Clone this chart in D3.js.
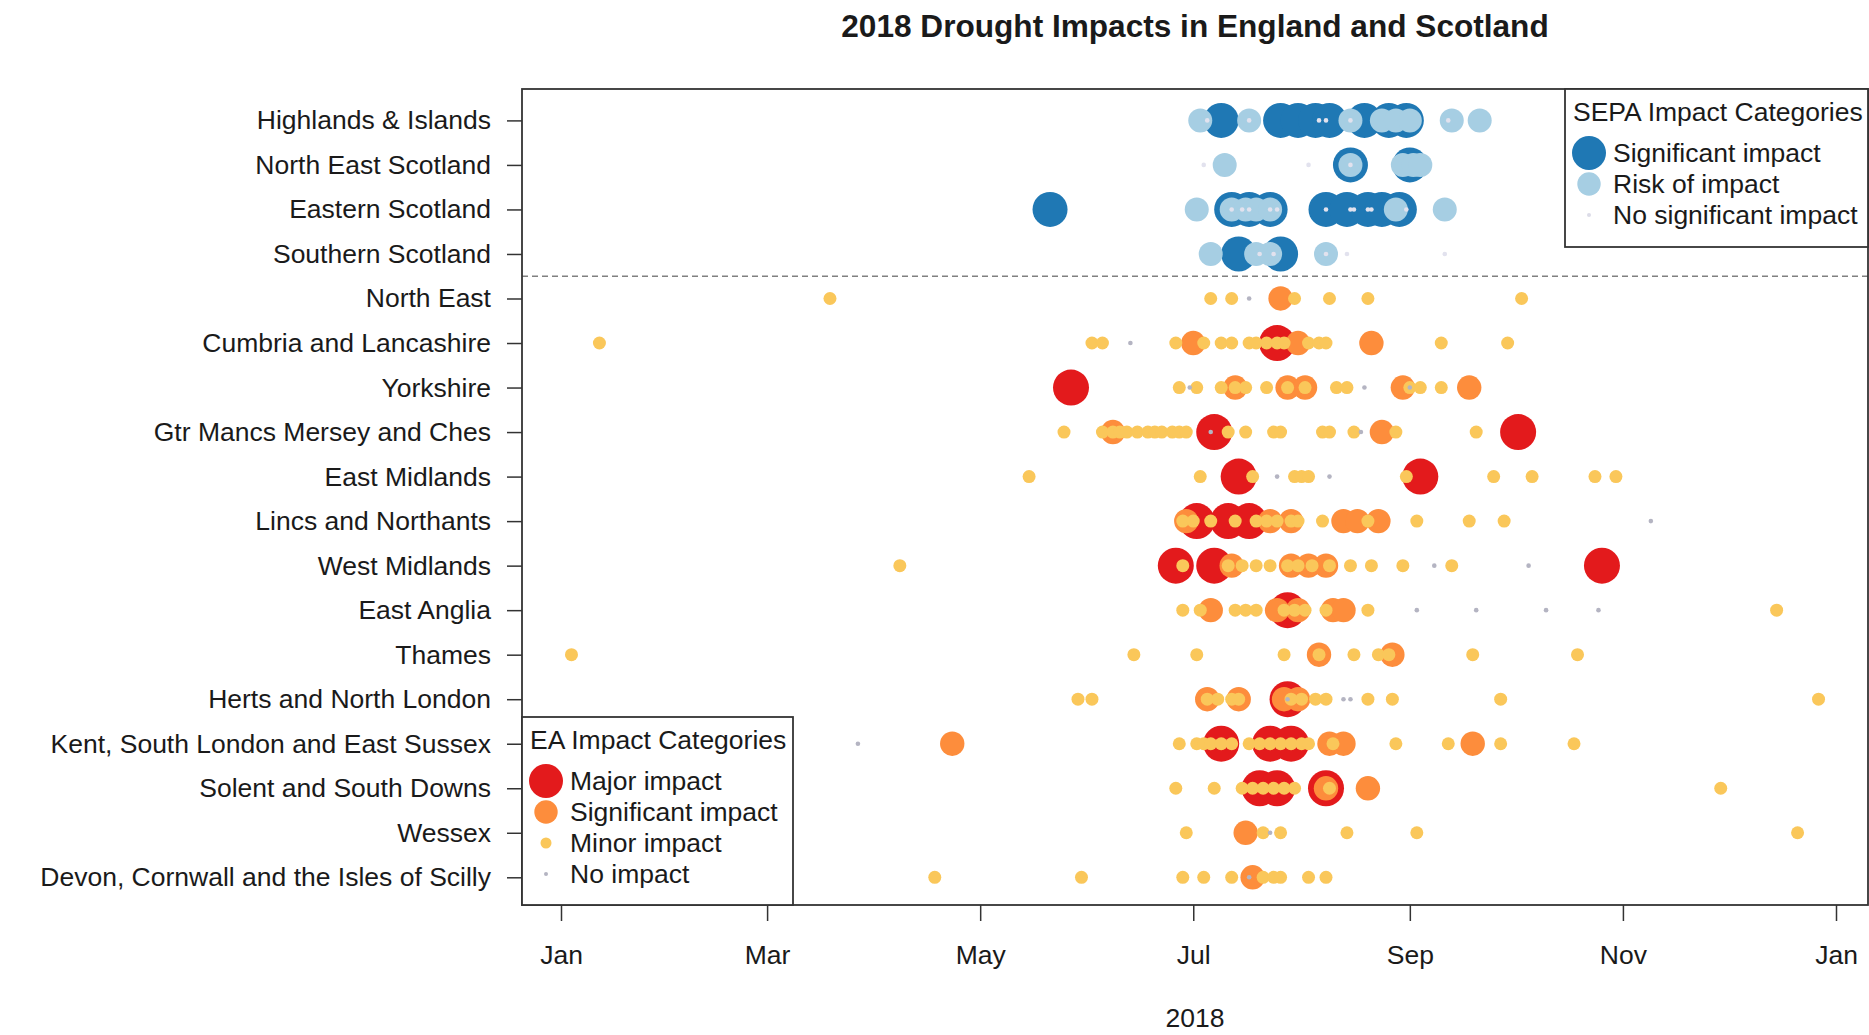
<!DOCTYPE html>
<html>
<head>
<meta charset="utf-8">
<script src="https://cdn.jsdelivr.net/npm/d3@7"></script>
<style>
  body { margin: 0; background: #fff; }
  svg text { font-family: "Liberation Sans", Arial, sans-serif; fill: #1a1a1a; }
</style>
</head>
<body>
<svg id="chart"></svg>
<script>
// rows, top to bottom
const regions = [
  "Highlands & Islands", "North East Scotland", "Eastern Scotland", "Southern Scotland",
  "North East", "Cumbria and Lancashire", "Yorkshire", "Gtr Mancs Mersey and Ches",
  "East Midlands", "Lincs and Northants", "West Midlands", "East Anglia", "Thames",
  "Herts and North London", "Kent, South London and East Sussex", "Solent and South Downs",
  "Wessex", "Devon, Cornwall and the Isles of Scilly"
];

const tickDates = ["2018-01-01", "2018-03-01", "2018-05-01", "2018-07-01", "2018-09-01", "2018-11-01", "2019-01-01"];

// SEPA impacts (month-day in 2018), one list per Scottish region
const sepaSignificant = [
  ["07-09", "07-26", "07-31", "08-05", "08-09", "08-19", "08-26", "08-31"],
  ["08-15", "09-01"],
  ["05-21", "07-12", "07-17", "07-23", "08-08", "08-14", "08-20", "08-24", "08-29"],
  ["07-14", "07-26"]
];
const sepaRisk = [
  ["07-03", "07-17", "08-15", "08-24", "08-28", "09-01", "09-13", "09-21"],
  ["07-10", "08-15", "08-30", "09-02", "09-04"],
  ["07-02", "07-12", "07-16", "07-19", "07-23", "08-28", "09-11"],
  ["07-06", "07-19", "07-23", "08-08"]
];
const sepaNone = [
  ["07-05", "07-17", "08-06", "08-08", "08-15", "09-12"],
  ["07-04", "08-03", "08-15"],
  ["07-12", "07-15", "07-17", "07-23", "07-25", "08-08", "08-15", "08-16", "08-20", "08-21", "08-31"],
  ["07-20", "07-24", "08-08", "08-14", "09-11"]
];

// EA impacts, one list per English region (North East ... Devon)
const eaMajor = [
  [],
  ["07-25"],
  ["05-27"],
  ["07-07", "10-02"],
  ["07-14", "09-04"],
  ["07-02", "07-11", "07-17"],
  ["06-26", "07-07", "10-26"],
  ["07-28"],
  [],
  ["07-28"],
  ["07-09", "07-23", "07-29"],
  ["07-20", "07-25", "08-08"],
  [],
  []
];
const eaSignificant = [
  ["07-26"],
  ["07-01", "07-31", "08-21"],
  ["07-13", "07-28", "08-02", "08-30", "09-18"],
  ["06-08", "08-24"],
  [],
  ["06-29", "07-23", "07-29", "08-13", "08-17", "08-23"],
  ["07-12", "07-29", "08-03", "08-08"],
  ["07-06", "07-25", "07-31", "08-10", "08-13"],
  ["08-06", "08-27"],
  ["07-05", "07-14", "07-27", "07-31"],
  ["04-23", "08-09", "08-13", "09-19"],
  ["08-08", "08-20"],
  ["07-16"],
  ["07-18"]
];
const eaMinor = [
  ["03-19", "07-06", "07-12", "07-30", "08-09", "08-20", "10-03"],
  ["01-12", "06-02", "06-05", "06-26", "07-04", "07-09", "07-12", "07-17", "07-19", "07-22", "07-25", "07-27", "08-03", "08-06", "08-08", "09-10", "09-29"],
  ["06-27", "07-02", "07-09", "07-13", "07-16", "07-22", "07-28", "08-02", "08-11", "08-14", "09-01", "09-04", "09-10"],
  ["05-25", "06-05", "06-08", "06-10", "06-12", "06-15", "06-18", "06-20", "06-22", "06-25", "06-27", "06-29", "07-11", "07-16", "07-24", "07-26", "08-07", "08-09", "08-16", "08-28", "09-20"],
  ["05-15", "07-03", "07-18", "07-30", "08-01", "08-03", "08-31", "09-25", "10-06", "10-24", "10-30"],
  ["06-28", "07-01", "07-06", "07-13", "07-19", "07-22", "07-25", "07-29", "07-31", "08-07", "08-20", "09-03", "09-18", "09-28"],
  ["04-08", "06-28", "07-11", "07-15", "07-19", "07-23", "07-28", "07-31", "08-04", "08-09", "08-15", "08-21", "08-30", "09-13"],
  ["06-28", "07-03", "07-13", "07-16", "07-19", "07-27", "07-30", "08-02", "08-08", "08-20", "12-15"],
  ["01-04", "06-14", "07-02", "07-27", "08-06", "08-16", "08-23", "08-26", "09-19", "10-19"],
  ["05-29", "06-02", "07-05", "07-08", "07-12", "07-14", "07-29", "08-01", "08-05", "08-08", "08-20", "08-27", "09-27", "12-27"],
  ["06-27", "07-02", "07-04", "07-06", "07-09", "07-12", "07-17", "07-20", "07-23", "07-26", "07-29", "08-01", "08-03", "08-10", "08-28", "09-12", "09-27", "10-18"],
  ["06-26", "07-07", "07-15", "07-18", "07-21", "07-24", "07-27", "07-30", "08-09", "11-29"],
  ["06-29", "07-21", "07-26", "08-14", "09-03", "12-21"],
  ["04-18", "05-30", "06-28", "07-04", "07-12", "07-21", "07-24", "07-26", "08-03", "08-08"]
];
const eaNone = [
  ["07-17"],
  ["06-13"],
  ["06-30", "08-19", "09-01"],
  ["07-06", "08-18"],
  ["07-25", "08-09"],
  ["11-09"],
  ["09-08", "10-05"],
  ["09-03", "09-20", "10-10", "10-25"],
  [],
  ["07-28", "08-13", "08-15"],
  ["03-27"],
  [],
  ["07-23"],
  ["07-17"]
];

const eaLabels = ["Major impact", "Significant impact", "Minor impact", "No impact"];
const sepaLabels = ["Significant impact", "Risk of impact", "No significant impact"];

const W = 1869, H = 1035;
const box = {left: 522, right: 1868, top: 89, bottom: 905};
const fontSize = 26.5;
const parseDay = d3.timeParse('%Y-%m-%d');

const svg = d3.select('#chart').attr('width', W).attr('height', H);

const x = d3.scaleTime()
  .domain([parseDay('2018-01-01'), parseDay('2019-01-01')])
  .range([561, 1836]);
const y = d3.scalePoint()
  .domain(regions)
  .range([120.4, 877.3]);

// drawing order: big marks first, small ones on top
const layers = [
  {data: sepaSignificant, offset: 0, color: '#1f78b4', r: 17.5},
  {data: sepaRisk,        offset: 0, color: '#a6cee3', r: 12},
  {data: sepaNone,        offset: 0, color: '#e2e2ee', r: 2.3},
  {data: eaMajor,         offset: 4, color: '#e31a1c', r: 18},
  {data: eaSignificant,   offset: 4, color: '#fd8d3c', r: 12.2},
  {data: eaMinor,         offset: 4, color: '#fac75a', r: 6.5},
  {data: eaNone,          offset: 4, color: '#b4b4c2', r: 2.3}
];

// divider between Scotland and England
svg.append('line')
  .attr('x1', box.left).attr('x2', box.right)
  .attr('y1', (y(regions[3]) + y(regions[4])) / 2)
  .attr('y2', (y(regions[3]) + y(regions[4])) / 2)
  .attr('stroke', '#808080')
  .attr('stroke-width', 1.3)
  .attr('stroke-dasharray', '6,4');

layers.forEach(layer => {
  let pts = [];
  layer.data.forEach((days, i) => {
    days.forEach(md => pts.push({region: regions[i + layer.offset], date: parseDay('2018-' + md)}));
  });
  svg.append('g')
    .selectAll('circle')
    .data(pts)
    .enter()
    .append('circle')
    .attr('cx', d => x(d.date))
    .attr('cy', d => y(d.region))
    .attr('r', layer.r)
    .attr('fill', layer.color);
});

// frame
svg.append('rect')
  .attr('x', box.left).attr('y', box.top)
  .attr('width', box.right - box.left).attr('height', box.bottom - box.top)
  .attr('fill', 'none')
  .attr('stroke', '#333')
  .attr('stroke-width', 1.8);

// axes
const xAxis = d3.axisBottom(x)
  .tickValues(tickDates.map(parseDay))
  .tickFormat(d3.timeFormat('%b'))
  .tickSize(16)
  .tickPadding(24);
const gx = svg.append('g')
  .attr('transform', 'translate(0,' + box.bottom + ')')
  .call(xAxis);
gx.select('.domain').remove();
gx.selectAll('line').attr('stroke', '#333').attr('stroke-width', 1.5);
gx.selectAll('text').attr('font-size', fontSize).attr('fill', '#1a1a1a');

const yAxis = d3.axisLeft(y).tickSize(15).tickPadding(16);
const gy = svg.append('g')
  .attr('transform', 'translate(' + box.left + ',0)')
  .call(yAxis);
gy.select('.domain').remove();
gy.selectAll('line').attr('stroke', '#333').attr('stroke-width', 1.5);
gy.selectAll('text').attr('font-size', fontSize).attr('fill', '#1a1a1a');

// titles
svg.append('text')
  .attr('x', (box.left + box.right) / 2)
  .attr('y', 37)
  .attr('text-anchor', 'middle')
  .attr('font-size', 31.6)
  .attr('font-weight', 'bold')
  .text('2018 Drought Impacts in England and Scotland');

svg.append('text')
  .attr('x', (box.left + box.right) / 2)
  .attr('y', 1027)
  .attr('text-anchor', 'middle')
  .attr('font-size', fontSize)
  .text('2018');

// legends
function legend(opts) {
  const g = svg.append('g');
  g.append('rect')
    .attr('x', opts.x).attr('y', opts.y)
    .attr('width', opts.w).attr('height', opts.h)
    .attr('fill', '#fff')
    .attr('stroke', '#333')
    .attr('stroke-width', 1.8);
  g.append('text')
    .attr('x', opts.x + 8)
    .attr('y', opts.y + 32)
    .attr('font-size', fontSize)
    .text(opts.title);
  const rows = g.selectAll('g.item')
    .data(opts.labels)
    .enter()
    .append('g')
    .attr('transform', (d, i) => 'translate(' + opts.x + ',' + (opts.y + 64 + i * 31) + ')');
  rows.append('circle')
    .attr('cx', 24)
    .attr('cy', 0)
    .attr('r', (d, i) => opts.radii[i])
    .attr('fill', (d, i) => opts.colors[i]);
  rows.append('text')
    .attr('x', 48)
    .attr('y', 9)
    .attr('font-size', fontSize)
    .text(d => d);
}

legend({
  x: box.left, y: 717, w: 271, h: box.bottom - 717,
  title: 'EA Impact Categories',
  labels: eaLabels,
  colors: ['#e31a1c', '#fd8d3c', '#fac75a', '#b4b4c2'],
  radii: [17, 11.7, 5.5, 2]
});

legend({
  x: 1565, y: box.top, w: box.right - 1565, h: 247 - box.top,
  title: 'SEPA Impact Categories',
  labels: sepaLabels,
  colors: ['#1f78b4', '#a6cee3', '#dcdce8'],
  radii: [17, 11.7, 2]
});
</script>
</body>
</html>
